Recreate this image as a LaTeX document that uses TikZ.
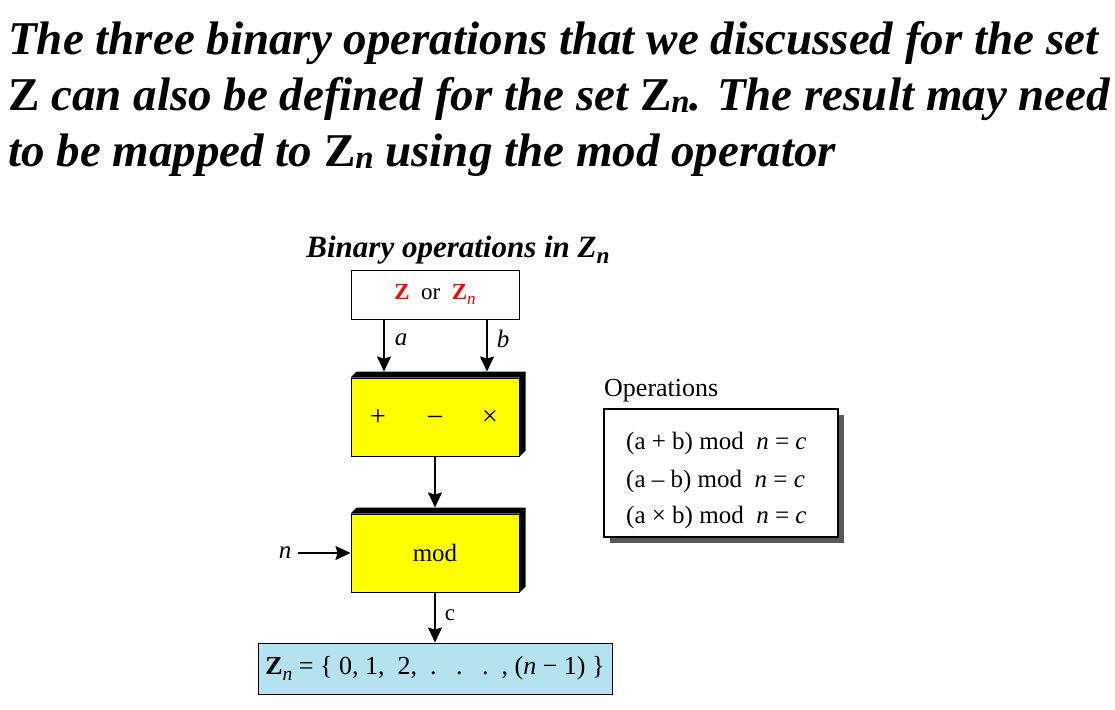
\documentclass[tikz,border=0pt]{standalone}
\usepackage{fontspec}
\setmainfont{Liberation Serif}
\usetikzlibrary{arrows.meta}
\definecolor{ybox}{HTML}{FFFF00}
\definecolor{bbox}{HTML}{B4E2EE}
\newcommand{\subn}[2][0.7]{\raisebox{#2}{\scalebox{#1}{\itshape n}}}
\begin{document}
\begin{tikzpicture}[x=1pt,y=-1pt]
\tikzset{
  title/.style={anchor=base west, inner sep=0pt, font=\fontsize{47}{52}\selectfont\bfseries\itshape},
  txt/.style={inner sep=0pt, font=\fontsize{25}{28}\selectfont},
  arr/.style={-{Stealth[length=15pt,width=14pt,inset=2pt]}, line width=1.6pt},
  frame/.style={draw=black, line width=1pt, minimum width=168pt, inner sep=0pt},
  shade3d/.style={fill=black},
}
\useasboundingbox (0,0) rectangle (1115,709);
% title
\node[title] (t1) at (8,55) {The three binary operations that we discussed for the set};
\node[title] (t2) at (8,110) {{\upshape Z} can also be defined for the set {\upshape Z}\subn{-0.05em}. The result may need};
\node[title] (t3) at (8,166) {to be mapped to {\upshape Z}\subn{-0.05em}\ using the mod operator};
% diagram heading
\node[inner sep=0pt, anchor=base, font=\fontsize{31}{34}\selectfont\bfseries\itshape] (head) at (458,257) {Binary operations in Z\subn[0.75]{-0.2em}};
% input box
\node[frame, minimum height=49pt, fill=white, font=\fontsize{23}{26}\selectfont] (wb) at (435,294.5)
  {\textcolor{red}{\textbf{Z}}\ \ or\ \ \textcolor{red}{\textbf{Z}\subn[0.75]{-0.25em}}};
% op box
\node[frame, minimum height=78pt, fill=ybox] (b1) at (435,417) {};
\fill[shade3d] (b1.north west) -- ++(6,-6) -- ([shift={(6,-6)}]b1.north east) -- ([shift={(6,-6)}]b1.south east) -- (b1.south east) -- (b1.north east) -- cycle;
\node[txt, font=\fontsize{28}{30}\selectfont] (plus) at (378,418) {+};
\node[txt, font=\fontsize{28}{30}\selectfont] (minus) at (435,420) {–};
\node[txt, font=\fontsize{28}{30}\selectfont] (times) at (490,418) {×};
% mod box
\node[frame, minimum height=78pt, fill=ybox, font=\fontsize{25}{28}\selectfont] (b2) at (435,553) {mod};
\fill[shade3d] (b2.north west) -- ++(6,-6) -- ([shift={(6,-6)}]b2.north east) -- ([shift={(6,-6)}]b2.south east) -- (b2.south east) -- (b2.north east) -- cycle;
% result box
\node[draw=black, line width=1pt, fill=bbox, minimum width=354pt, minimum height=51pt, inner sep=0pt, font=\fontsize{26}{30}\selectfont] (zb) at (435,668.5)
  {\textbf{Z}\subn[0.75]{-0.25em} = \{ 0, 1,\ \ 2,\ \ .\ \ \ .\ \ \ .\ \ , (\textit{n} − 1) \}};
% connectors
\coordinate (ax) at (384,0);
\coordinate (bx) at (487,0);
\draw[arr] (ax |- wb.south) -- ([yshift=6pt]ax |- b1.north);
\draw[arr] (bx |- wb.south) -- ([yshift=6pt]bx |- b1.north);
\node[txt, font=\fontsize{25}{28}\selectfont\itshape] (la) at (401,340) {a};
\node[txt, font=\fontsize{25}{28}\selectfont\itshape] (lb) at (503,339) {b};
\draw[arr] (b1.south) -- ([yshift=6pt]b2.north);
\node[txt, font=\fontsize{25}{28}\selectfont\itshape] (n) at (285,553) {n};
\path (n.east) ++(7,0) coordinate (nstart);
\draw[arr] (nstart) -- (b2.west);
\draw[arr] (b2.south) -- (zb.north);
\node[txt, font=\fontsize{23}{26}\selectfont] (lc) at (450,615) {c};
% operations box
\node[txt, anchor=base west, font=\fontsize{26}{28}\selectfont] (oplbl) at (604,396) {Operations};
\fill[black!65] (610,415) rectangle (844,543);
\node[draw=black, line width=1.2pt, fill=white, minimum width=234pt, minimum height=128pt, inner sep=0pt] (ops) at (721,473) {};
\node[txt, anchor=base west] (o1) at (626,449) {(a + b) mod\ \ \textit{n} = \textit{c}};
\node[txt, anchor=base west] (o2) at (626,487) {(a – b) mod\ \ \textit{n} = \textit{c}};
\node[txt, anchor=base west] (o3) at (626,523) {(a × b) mod\ \ \textit{n} = \textit{c}};
\end{tikzpicture}
\end{document}
